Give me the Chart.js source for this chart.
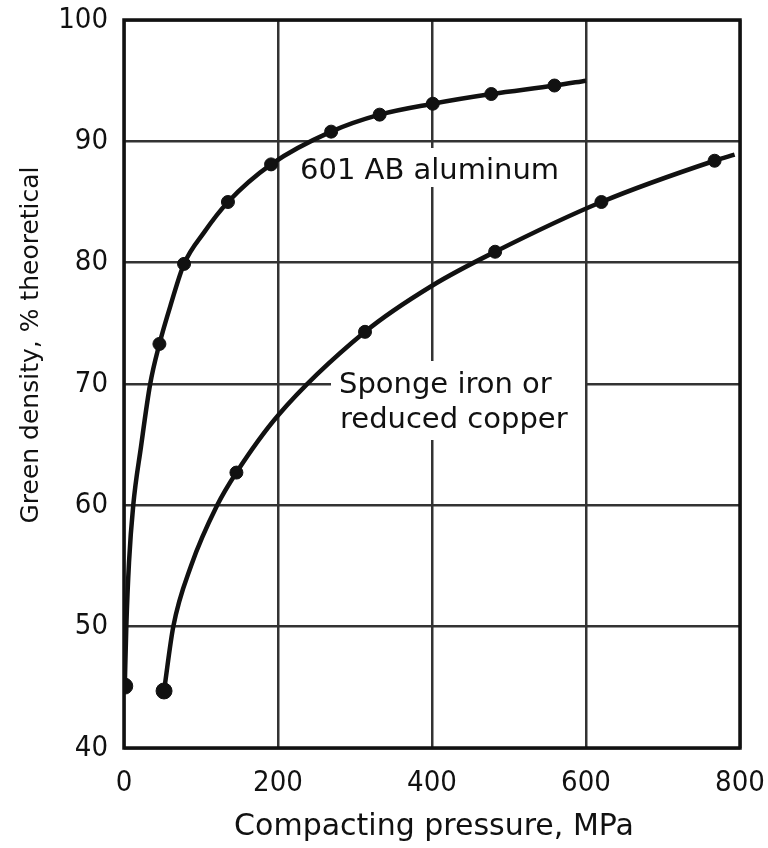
<!DOCTYPE html>
<html>
<head>
<meta charset="utf-8">
<script src="https://cdn.jsdelivr.net/npm/chart.js@4/dist/chart.umd.min.js"></script>
<style>
  html, body { margin: 0; padding: 0; background: #fff; }
  #wrap { width: 768px; height: 848px; position: relative; }
</style>
</head>
<body>
<div id="wrap"><canvas id="c" width="768" height="848"></canvas></div>
<script>
// ---- data ----
const xTicks = [0, 200, 400, 600, 800];
const yTicks = [40, 50, 60, 70, 80, 90, 100];

// measured points (markers)
const aluminumX = [1, 46, 78, 135, 191, 269, 332, 401, 477, 559];
const aluminumY = [45.1, 73.3, 79.9, 85.0, 88.1, 90.8, 92.2, 93.1, 93.9, 94.6];
const spongeX = [52, 146, 313, 482, 620, 767];
const spongeY = [44.7, 62.7, 74.3, 80.9, 85.0, 88.4];

// traced fitted curves
const aluminumCurveX = [1, 3, 6.5, 12, 22, 34, 46, 61, 78, 104, 135, 191, 269, 332, 401, 477, 559, 600];
const aluminumCurveY = [45.1, 50, 55.3, 60, 64.8, 70, 73.3, 76.6, 79.9, 82.5, 85, 88.1, 90.8, 92.2, 93.1, 93.9, 94.6, 95.0];
const spongeCurveX = [52, 64, 87, 121, 146, 200, 313, 400, 482, 620, 767, 793];
const spongeCurveY = [44.7, 50, 55, 60, 62.7, 67.4, 74.3, 78.1, 80.9, 85.0, 88.4, 88.9];

const xTitle = 'Compacting pressure, MPa';
const yTitle = 'Green density, % theoretical';
const aluminumLabel = '601 AB aluminum';
const spongeLabel = ['Sponge iron or', 'reduced copper'];

const pts = (xs, ys) => xs.map((x, i) => ({ x: x, y: ys[i] }));

const annotations = {
  id: 'annotations',
  beforeDatasetsDraw(chart) {
    const ctx = chart.ctx;
    ctx.save();
    ctx.fillStyle = '#fff';
    // white boxes behind labels (they break the grid lines in the reference)
    ctx.fillRect(292, 148, 278, 39);
    ctx.fillRect(331, 361, 254, 79);
    ctx.fillStyle = '#111';
    ctx.font = '29px "DejaVu Sans"';
    ctx.textAlign = 'left';
    ctx.textBaseline = 'alphabetic';
    ctx.fillText(aluminumLabel, 300, 179);
    ctx.fillText(spongeLabel[0], 339, 393);
    ctx.fillText(spongeLabel[1], 340, 428);
    ctx.restore();
  },
  afterDatasetsDraw(chart) {
    const ctx = chart.ctx;
    const a = chart.chartArea;
    ctx.save();
    ctx.strokeStyle = '#111';
    ctx.lineWidth = 3.5;
    ctx.strokeRect(a.left, a.top, a.right - a.left, a.bottom - a.top);
    ctx.restore();
  },
  afterDraw(chart) {
    const ctx = chart.ctx;
    ctx.save();
    ctx.fillStyle = '#111';
    ctx.font = '30px "DejaVu Sans"';
    ctx.textAlign = 'center';
    ctx.textBaseline = 'alphabetic';
    ctx.fillText(xTitle, 434, 835);
    ctx.translate(31, 345);
    ctx.rotate(-Math.PI / 2);
    ctx.font = '25px "DejaVu Sans"';
    ctx.textBaseline = 'middle';
    ctx.fillText(yTitle, 0, 0);
    ctx.restore();
  }
};

const lineStyle = {
  showLine: true,
  borderColor: '#111',
  borderWidth: 4.5,
  pointRadius: 0,
  pointHoverRadius: 0,
  cubicInterpolationMode: 'monotone',
  fill: false,
  order: 2
};
const markerStyle = {
  showLine: false,
  backgroundColor: '#111',
  borderColor: '#111',
  pointRadius: (c) => (c.dataIndex === 0 ? 8 : 6.5),
  pointStyle: 'circle',
  order: 1
};

new Chart(document.getElementById('c'), {
  type: 'scatter',
  data: {
    datasets: [
      Object.assign({ label: '601 AB aluminum curve', data: pts(aluminumCurveX, aluminumCurveY) }, lineStyle),
      Object.assign({ label: 'Sponge iron or reduced copper curve', data: pts(spongeCurveX, spongeCurveY) }, lineStyle),
      Object.assign({ label: '601 AB aluminum', data: pts(aluminumX, aluminumY) }, markerStyle),
      Object.assign({ label: 'Sponge iron or reduced copper', data: pts(spongeX, spongeY) }, markerStyle)
    ]
  },
  options: {
    responsive: false,
    animation: false,
    devicePixelRatio: 1,
    layout: { padding: { top: 20, right: 28, left: 0, bottom: 0 } },
    plugins: { legend: { display: false }, tooltip: { enabled: false } },
    scales: {
      x: {
        type: 'linear',
        min: 0, max: 800,
        afterBuildTicks: (s) => { s.ticks = xTicks.map(v => ({ value: v })); },
        afterFit: (s) => { s.height = 100; s.paddingLeft = 0; s.paddingRight = 0; },
        grid: { color: '#333', lineWidth: 2.5, drawTicks: false },
        border: { display: false },
        ticks: {
          padding: 18,
          color: '#111',
          font: { family: '"Liberation Sans Narrow", "DejaVu Sans Condensed", sans-serif', size: 29 }
        }
      },
      y: {
        type: 'linear',
        min: 40, max: 100,
        afterBuildTicks: (s) => { s.ticks = yTicks.map(v => ({ value: v })); },
        afterFit: (s) => { s.width = 124; s.paddingTop = 0; s.paddingBottom = 0; },
        grid: { color: '#333', lineWidth: 2.5, drawTicks: false },
        border: { display: false },
        ticks: {
          padding: 16,
          color: '#111',
          font: { family: '"Liberation Sans Narrow", "DejaVu Sans Condensed", sans-serif', size: 29 }
        }
      }
    }
  },
  plugins: [annotations]
});
</script>
</body>
</html>
